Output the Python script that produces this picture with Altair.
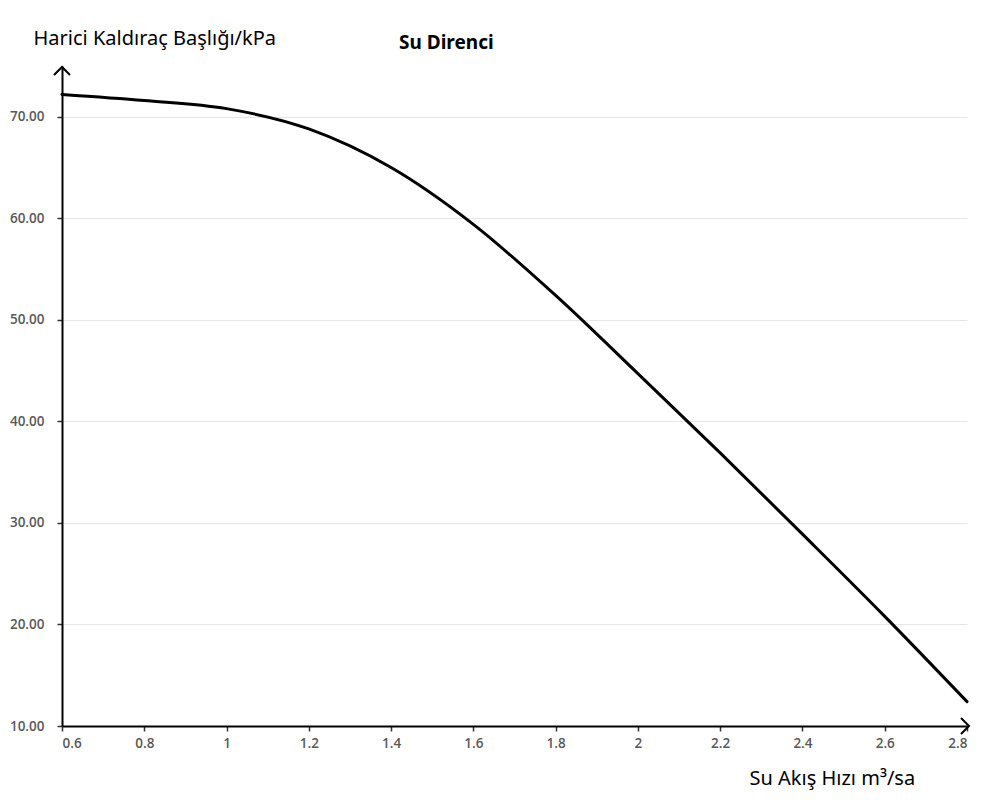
import altair as alt
import pandas as pd

flow = [0.6, 0.8, 1.0, 1.2, 1.4, 1.6, 1.8, 2.0, 2.2, 2.4, 2.6, 2.8]
head = [72.2, 71.6, 70.8, 68.8, 65.0, 59.4, 52.4, 44.7, 36.9, 28.9, 20.8, 12.4]
x_ticks = [0.6, 0.8, 1.0, 1.2, 1.4, 1.6, 1.8, 2.0, 2.2, 2.4, 2.6, 2.8]
y_ticks = [10, 20, 30, 40, 50, 60, 70]
chart_title = "Su Direnci"
x_title = "Su Akış Hızı m³/sa"
y_title = "Harici Kaldıraç Başlığı/kPa"

W, H = 905, 660

df = pd.DataFrame({"flow": flow, "head": head})

x_scale = alt.Scale(domain=[0.6, 2.8], zero=False, nice=False)
y_scale = alt.Scale(domain=[10, 75], zero=False, nice=False)

line = alt.Chart(df).mark_line(
    color="black", strokeWidth=3, interpolate="monotone", strokeCap="round"
).encode(
    x=alt.X("flow:Q", scale=x_scale,
            axis=alt.Axis(values=x_ticks, format=".1~f", title=x_title,
                          grid=False, domainColor="black", domainWidth=2,
                          tickColor="#333333", tickSize=5, tickWidth=1.5,
                          labelColor="#595959", labelFontSize=13.5, labelFontWeight=600,
                          labelFont="Open Sans", labelPadding=5,
                          titleFont="Noto Sans", titleFontSize=20, titleFontWeight="normal",
                          titleColor="black", titleAnchor="start", titleAlign="left",
                          titleBaseline="alphabetic", titleX=687, titleY=58)),
    y=alt.Y("head:Q", scale=y_scale,
            axis=alt.Axis(values=y_ticks, format=".2f", title=y_title,
                          grid=True, gridColor="#e6e6e6", gridWidth=1,
                          domainColor="black", domainWidth=2,
                          tickColor="#333333", tickSize=5, tickWidth=1.5,
                          labelColor="#595959", labelFontSize=13.5, labelFontWeight=600,
                          labelFont="Open Sans", labelPadding=13,
                          titleFont="Noto Sans", titleFontSize=20, titleFontWeight="normal",
                          titleColor="black", titleAngle=0, titleAlign="left",
                          titleBaseline="alphabetic", titleX=-29, titleY=-22)),
)

one = pd.DataFrame({"t": [chart_title]})

title_mark = alt.Chart(one).mark_text(
    font="Noto Sans", fontSize=19, fontWeight="bold", align="left",
    baseline="alphabetic", color="black"
).encode(x=alt.value(337), y=alt.value(-17), text="t:N")

up_arrow = alt.Chart(one).mark_point(
    shape="M -1 1 L 0 0 L 1 1", filled=False, size=256, color="black",
    strokeWidth=2, opacity=1
).encode(x=alt.value(0), y=alt.value(1))

right_arrow = alt.Chart(one).mark_point(
    shape="M -1 -1 L 0 0 L -1 1", filled=False, size=256, color="black",
    strokeWidth=2, opacity=1
).encode(x=alt.value(W + 2), y=alt.value(H))

chart = alt.layer(line, title_mark, up_arrow, right_arrow).properties(
    width=W, height=H,
    background="white",
    autosize=alt.AutoSizeParams(type="none"),
    padding={"left": 54, "top": 58, "right": 6, "bottom": 66},
).configure_view(strokeWidth=0, stroke=None)

chart.save("out.html", embed_options={"renderer": "svg", "actions": False})
